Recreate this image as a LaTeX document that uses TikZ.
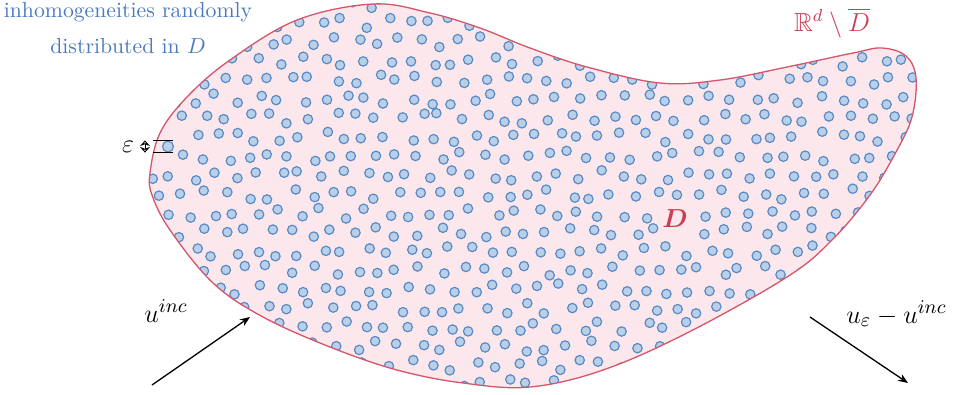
\documentclass[tikz,border=0pt]{standalone}
\usepackage{amssymb}
\usepackage{bm}
\usetikzlibrary{arrows.meta,calc}
\definecolor{blobred}{RGB}{212,86,108}
\definecolor{labelred}{RGB}{204,62,86}
\definecolor{blobfill}{RGB}{252,232,236}
\definecolor{inclblue}{RGB}{88,138,198}
\definecolor{inclfill}{RGB}{186,208,232}
\definecolor{textblue}{RGB}{74,122,190}
\newcommand{\blobshape}{plot[smooth cycle, tension=0.6] coordinates {(150,173) (160,133) (187,97) (230,60) (297,20) (373,4) (430,13) (480,28) (530,48) (587,67) (660,83) (720,80) (787,67) (853,53) (882,48) (906,56) (916,78) (912,117) (896,152) (870,195) (832,240) (787,277) (687,333) (603,370) (530,387) (463,383) (397,370) (330,347) (263,317) (213,283) (170,230) (152,195)}}
\newcommand{\wavesize}{\fontsize{13}{15}\selectfont}
\tikzset{
	incl/.style = {draw = inclblue, fill = inclfill, line width = 0.55pt},
	lbl/.style = {inner sep = 0pt}
}
\begin{document}
\begin{tikzpicture}[x = 0.46pt, y = -0.46pt]
		\useasboundingbox (0,0) rectangle (958,394);
		\fill [blobfill] \blobshape;
		\begin{scope}
			\clip \blobshape;
			\pgfmathsetseed{4242}
			\foreach \j in {0,...,20} {
				\foreach \i in {0,...,36} {
					\pgfmathsetmacro\px{140 + 21.5*\i + 10.75*mod(\j,2) + 5.5*rand}
					\pgfmathsetmacro\py{4 + 19*\j + 5.5*rand}
					\pgfmathtruncatemacro\keep{and(veclen(\px-168,\py-146.5) >= 12, veclen(\px-675,\py-218) >= 22)}
					\ifnum\keep=1 \draw [incl] (\px,\py) circle [radius = 4.7]; \fi
				}
			}
			\node [incl, circle, minimum size = 5.06pt, inner sep = 0pt] (epsincl) at (168,146.5) {};
		\end{scope}
		\draw [blobred, line width = 0.6pt] \blobshape;
		% labels
		\node [lbl, text = textblue, align = center, anchor = north] (incltext) at (128,2) {inhomogeneities randomly\\[4.6pt] distributed in $D$};
		\node [lbl, text = labelred, anchor = base] (extlabel) at (832,31) {\large $\mathbb{R}^d \setminus \overline{D}$};
		\node [lbl, text = labelred, anchor = base] (domlabel) at (675,227) {\large $\bm{D}$};
		\node [lbl, anchor = base west] (inclabel) at (144,322) {\wavesize $u^{inc}$};
		\node [lbl, anchor = base west] (scalabel) at (846,323) {\wavesize $u_\varepsilon - u^{inc}$};
		\node [lbl, anchor = base] (epslabel) at (128,152) {\large $\varepsilon$};
		% size of one inclusion
		\draw [line width = 0.4pt] ($(epsincl.north)+(5,0)$) -- ($(epsincl.north)+(-15,0)$);
		\draw [line width = 0.4pt] ($(epsincl.south)+(5,0)$) -- ($(epsincl.south)+(-15,0)$);
		\draw [line width = 0.45pt, {Stealth[open, length = 2.6pt, width = 4.6pt]}-{Stealth[open, length = 2.6pt, width = 4.6pt]}] ($(epsincl.north)+(-23,0)$) -- ($(epsincl.south)+(-23,0)$);
		% incident and scattered waves
		\coordinate (incstart) at (152,385);
		\coordinate (incend) at (250,317);
		\coordinate (scastart) at (810,317);
		\coordinate (scaend) at (908,383);
		\draw [line width = 0.6pt, -{Stealth[length = 4.6pt, width = 3.6pt]}] (incstart) -- (incend);
		\draw [line width = 0.6pt, -{Stealth[length = 4.6pt, width = 3.6pt]}] (scastart) -- (scaend);
	\end{tikzpicture}
\end{document}
